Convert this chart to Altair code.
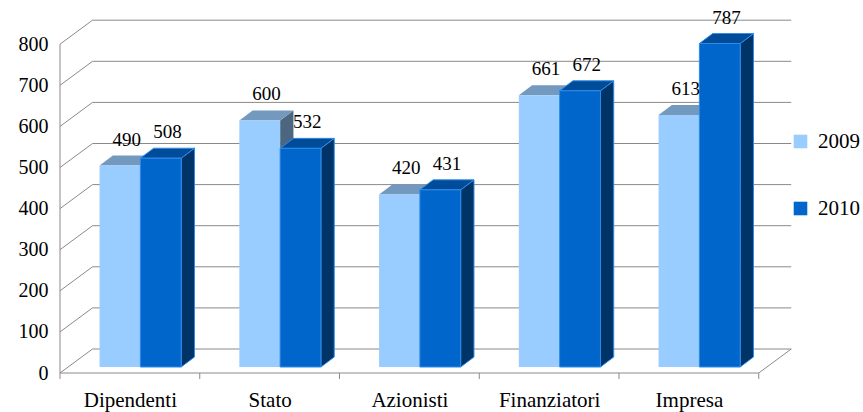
import json
import altair as alt
import pandas as pd

# ---- data -------------------------------------------------------------
categories = ["Dipendenti", "Stato", "Azionisti", "Finanziatori", "Impresa"]
years = ["2009", "2010"]
values_2009 = [490, 600, 420, 661, 613]
values_2010 = [508, 532, 431, 672, 787]
y_ticks = [0, 100, 200, 300, 400, 500, 600, 700, 800]

# ---- geometry of the pseudo-3D box (pixels -> data units) --------------
PX = 139.75          # pixels per category slot
PY = 0.411           # pixels per value unit
W, H = 733, 361      # plot area
XMAX, YMAX = W / PX, H / PY

BACK_X, BACK_Y = 32.5 / PX, 24 / PY          # depth of the back wall
SHIFT_X, SHIFT_Y = 10.5 / PX, 6 / PY         # bars sit a little inside the box
BAR_W = 40.8 / PX                            # width of one bar
DEPTH_X, DEPTH_Y = 13.3 / PX, 10 / PY        # depth of a bar
LABEL_GAP = 10 / PY
TICK_LEN = 6 / PY

FONT = "Liberation Serif"

colors = {
    "2009": {"front": "#99CCFF", "top": "#7399BF", "side": "#4D6680"},
    "2010": {"front": "#0066CC", "top": "#004C99", "side": "#003366"},
}

n = len(categories)

# ---- walls, floor, gridlines and ticks as segments --------------------
seg = []
for v in y_ticks:
    seg.append(dict(x=BACK_X, x2=n + BACK_X, y=v + BACK_Y, y2=v + BACK_Y))  # back wall grid
    seg.append(dict(x=0, x2=BACK_X, y=v, y2=v + BACK_Y))                    # side wall grid
seg.append(dict(x=0, x2=0, y=0, y2=y_ticks[-1]))                           # left edge
seg.append(dict(x=0, x2=n, y=0, y2=0))                                      # front floor edge
seg.append(dict(x=n, x2=n + BACK_X, y=0, y2=BACK_Y))                        # right floor edge
for i in range(n + 1):
    seg.append(dict(x=i, x2=i, y=0, y2=-TICK_LEN))                          # category ticks
segments = pd.DataFrame(seg)

# ---- bar faces ---------------------------------------------------------
rows, labels = [], []
for i, cat in enumerate(categories):
    center = i + 0.5 + SHIFT_X
    for j, (yr, vals) in enumerate(zip(years, [values_2009, values_2010])):
        v = vals[i]
        xl = center - BAR_W if j == 0 else center
        xr = xl + BAR_W
        top = v + SHIFT_Y
        key = f"{cat}-{yr}"
        pts = {
            "front": [(xl, top, SHIFT_Y), (xr, top, SHIFT_Y)],
            "top": [(xl, top, top), (xl + DEPTH_X, top + DEPTH_Y, top),
                    (xr, top + DEPTH_Y, top), (xr + DEPTH_X, top + DEPTH_Y, top + DEPTH_Y)],
            "side": [(xr, top, SHIFT_Y), (xr + DEPTH_X, top + DEPTH_Y, SHIFT_Y + DEPTH_Y)],
        }
        for face, plist in pts.items():
            for (x, y, y2) in plist:
                rows.append(dict(year=yr, cat=cat, face=face, key=key, x=x, y=y, y2=y2))
        labels.append(dict(x=xl + BAR_W / 2 + DEPTH_X / 2,
                           y=top + DEPTH_Y + LABEL_GAP, text=str(v)))
faces = pd.DataFrame(rows)
value_labels = pd.DataFrame(labels)

# ---- shared encodings --------------------------------------------------
label_expr = f"{json.dumps(categories)}[floor(datum.value)]"
x_enc = alt.X(
    "x:Q",
    scale=alt.Scale(domain=[0, XMAX], nice=False, zero=False),
    axis=alt.Axis(values=[i + 0.5 for i in range(n)], labelExpr=label_expr,
                  title=None, grid=False, domain=False, ticks=False, tickSize=0,
                  labelFont=FONT, labelFontSize=21, labelColor="#000000",
                  labelBaseline="alphabetic", labelPadding=33, labelFlush=False),
)
y_enc = alt.Y(
    "y:Q",
    stack=None,
    scale=alt.Scale(domain=[0, YMAX], nice=False, zero=False),
    axis=alt.Axis(values=y_ticks, title=None, grid=False, domain=False, ticks=False,
                  tickSize=0, labelFont=FONT, labelFontSize=20,
                  labelColor="#000000", labelPadding=12, labelFlush=False),
)

lines = alt.Chart(segments).mark_rule(color="#8a8a8a", strokeWidth=1).encode(
    x=x_enc, x2="x2:Q", y=y_enc, y2="y2:Q"
)

color_scale = alt.Scale(domain=years, range=[colors[y]["front"] for y in years])
legend = alt.Legend(
    title=None, orient="none", legendX=730, legendY=119, symbolType="square",
    symbolSize=185, symbolStrokeWidth=0, labelFont=FONT,
    labelFontSize=21, labelColor="#000000", labelOffset=7, rowPadding=45,
    padding=0,
)


def face_layer(year, face):
    data = faces[(faces.year == year) & (faces.face == face)]
    stroke = {"stroke": "#2E8BEA", "strokeWidth": 1} if year == "2010" else {}
    mark = alt.Chart(data).mark_area(orient="vertical", interpolate="linear", **stroke)
    enc = dict(x=x_enc, y=y_enc, y2="y2:Q", detail="key:N")
    if face == "front":
        enc["color"] = alt.Color("year:N", scale=color_scale, legend=legend)
        enc["fillOpacity"] = alt.value(1)
    else:
        enc["fill"] = alt.value(colors[year][face])
    return mark.encode(**enc)


bar_layers = [face_layer(yr, f) for yr in years for f in ("side", "top", "front")]

text = alt.Chart(value_labels).mark_text(
    font=FONT, fontSize=19, color="#000000",
    align="center", baseline="alphabetic",
).encode(x=x_enc, y=y_enc, text="text:N")

chart = alt.layer(lines, *bar_layers, text).properties(
    width=W, height=H,
    autosize=alt.AutoSizeParams(type="none"),
    padding={"left": 60, "top": 12, "right": 70, "bottom": 39},
    background="white",
).configure(font=FONT).configure_view(strokeWidth=0)

chart.save("out.html", embed_options={"renderer": "svg", "actions": False})
